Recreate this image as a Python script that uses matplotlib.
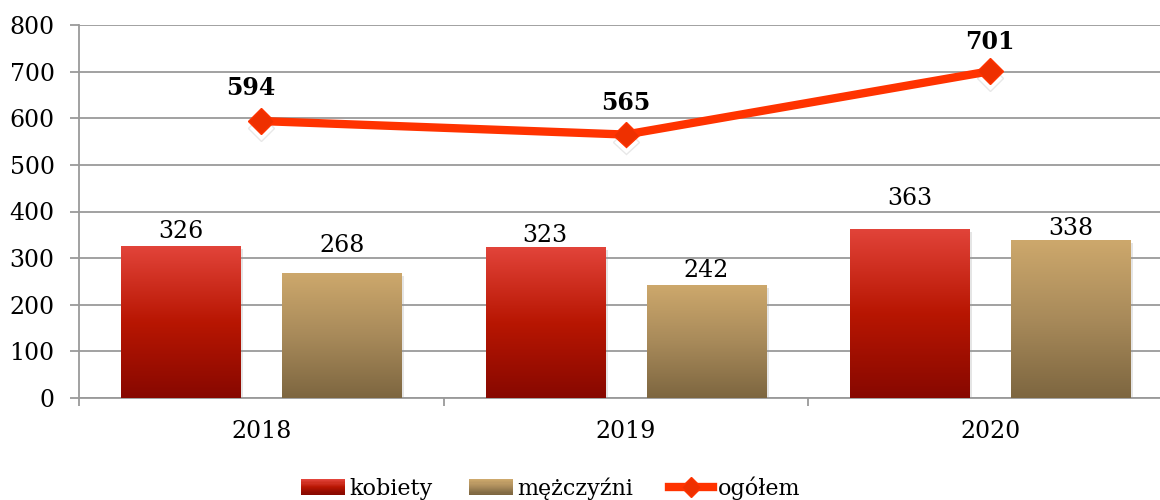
import numpy as np
import matplotlib.pyplot as plt
from matplotlib import patheffects
from matplotlib.colors import LinearSegmentedColormap
from matplotlib.legend_handler import HandlerBase
from matplotlib.lines import Line2D
from matplotlib.patches import Rectangle

# Data
years = ['2018', '2019', '2020']
kobiety = [326, 323, 363]
mezczyzni = [268, 242, 338]
ogolem = [594, 565, 701]
y_ticks = [0, 100, 200, 300, 400, 500, 600, 700, 800]
series_names = ['kobiety', 'mężczyźni', 'ogółem']

# Label lift above the bar tops / markers (pixels)
kob_lift = [15, 12, 30]
mez_lift = [28, 15, 12]
tot_shift = [(-10, 33), (0, 32), (0, 29)]

plt.rcParams['font.family'] = ['DejaVu Serif']
FS = 17
GRID = '#9a9a9a'

red_cmap = LinearSegmentedColormap.from_list('red_grad', ['#E2443A', '#B81602', '#870800'])
tan_cmap = LinearSegmentedColormap.from_list('tan_grad', ['#CDA86C', '#A88A5A', '#7D6640'])
LINE_COLOR = '#FF3300'


def gradient_fill(ax, bars, cmap):
    grad = np.linspace(0, 1, 256).reshape(-1, 1)
    for b in bars:
        x, w, h = b.get_x(), b.get_width(), b.get_height()
        im = ax.imshow(grad, cmap=cmap, aspect='auto', origin='upper',
                       extent=[x, x + w, 0, h], zorder=3, interpolation='bilinear')
        im.set_clip_path(b)


class GradientHandler(HandlerBase):
    def __init__(self, cmap, steps=14):
        super().__init__()
        self.cmap = cmap
        self.steps = steps

    def create_artists(self, legend, orig_handle, xdescent, ydescent,
                       width, height, fontsize, trans):
        arts = []
        dh = height / self.steps
        for i in range(self.steps):
            y = -ydescent + height - (i + 1) * dh
            r = Rectangle((-xdescent, y), width, dh * 1.05,
                          facecolor=self.cmap(i / (self.steps - 1)),
                          edgecolor='none', transform=trans)
            arts.append(r)
        return arts


fig = plt.figure(figsize=(11.6, 5), dpi=100)
ax = fig.add_axes([79 / 1160, 102 / 500, 1093.5 / 1160, 373 / 500])

x = np.arange(len(years))
off = 0.221
width = 0.327

shadow = [patheffects.SimplePatchShadow(offset=(2, -2), shadow_rgbFace='0.6', alpha=0.25),
          patheffects.Normal()]

bars_k = ax.bar(x - off, kobiety, width, color='#B81602', zorder=2, path_effects=shadow)
bars_m = ax.bar(x + off, mezczyzni, width, color='#A88A5A', zorder=2, path_effects=shadow)
gradient_fill(ax, bars_k, red_cmap)
gradient_fill(ax, bars_m, tan_cmap)

# Total line, markers drawn separately so only they cast a shadow
ax.plot(x, ogolem, color=LINE_COLOR, lw=6, zorder=5, solid_capstyle='round')
ax.plot(x, ogolem, ls='none', marker='D', markersize=13,
        markerfacecolor='#EE3000', markeredgecolor='#FF3300', zorder=6,
        path_effects=[patheffects.SimpleLineShadow(offset=(0, -5), alpha=0.15,
                                                   shadow_color='0.4'),
                      patheffects.Normal()])

# Value labels
px = 0.72
for xi, v, lift in zip(x - off, kobiety, kob_lift):
    ax.annotate(str(v), (xi, v), xytext=(0, lift * px), textcoords='offset points',
                ha='center', va='center', fontsize=FS, zorder=7)
for xi, v, lift in zip(x + off, mezczyzni, mez_lift):
    ax.annotate(str(v), (xi, v), xytext=(0, lift * px), textcoords='offset points',
                ha='center', va='center', fontsize=FS, zorder=7)
for xi, v, (dx, dy) in zip(x, ogolem, tot_shift):
    ax.annotate(str(v), (xi, v), xytext=(dx * px, dy * px), textcoords='offset points',
                ha='center', va='center', fontsize=FS, fontweight='bold', zorder=7)

# Axes styling
ax.set_xlim(-0.5, 2.5)
ax.set_ylim(0, 800)
ax.set_yticks(y_ticks)
ax.set_axisbelow(True)
ax.yaxis.grid(True, color=GRID, lw=1.3)
ax.tick_params(axis='y', length=6.5, width=1.3, color=GRID, labelsize=FS, pad=11)
ax.set_xticks(x, years)
ax.set_xticks([-0.5, 0.5, 1.5, 2.5], minor=True)
ax.tick_params(axis='x', which='major', length=0, labelsize=FS, pad=16)
ax.tick_params(axis='x', which='minor', length=6, width=1.3, color=GRID)
for s in ['top', 'right']:
    ax.spines[s].set_visible(False)
for s in ['left', 'bottom']:
    ax.spines[s].set_color(GRID)
    ax.spines[s].set_linewidth(1.3)

# Legend
h_k = Rectangle((0, 0), 1, 1)
h_m = Rectangle((0, 0), 1, 1, label='m')
h_t = Line2D([], [], color=LINE_COLOR, lw=6, marker='D', markersize=10,
             markerfacecolor='#EE3000', markeredgecolor='#FF3300')
fig.legend([h_k, h_m, h_t], series_names, loc='center', bbox_to_anchor=(0.4746, 0.024),
           ncol=3, frameon=False, fontsize=16, handlelength=2.0, handletextpad=0.2,
           columnspacing=1.6, borderpad=0,
           handler_map={h_k: GradientHandler(red_cmap), h_m: GradientHandler(tan_cmap)})

fig.savefig('out.png', dpi=100)
